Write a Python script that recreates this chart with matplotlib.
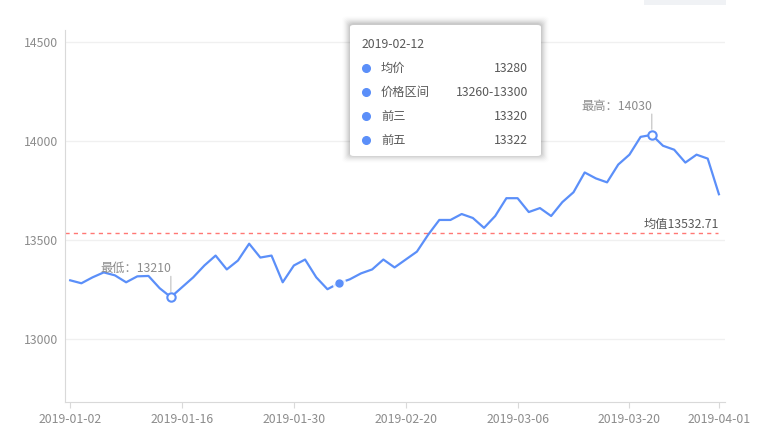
import numpy as np
import pandas as pd
import matplotlib.pyplot as plt
from matplotlib.patches import FancyBboxPatch, Rectangle

plt.rcParams['font.family'] = ['Noto Sans CJK SC', 'DejaVu Sans']

# 交易日 (2019 春节休市 02-04 ~ 02-08)
holidays = ['2019-02-04', '2019-02-05', '2019-02-06', '2019-02-07', '2019-02-08']
dates = pd.bdate_range('2019-01-02', '2019-04-01', freq='C', holidays=holidays).strftime('%Y-%m-%d').tolist()

prices = [13295, 13280, 13310, 13335, 13320, 13285, 13315, 13317, 13255, 13210,
          13260, 13310, 13370, 13420, 13350, 13395, 13480, 13410, 13420, 13285,
          13370, 13400, 13310, 13250, 13280, 13300, 13330, 13350, 13400, 13360,
          13400, 13440, 13525, 13600, 13600, 13630, 13610, 13560, 13620, 13710,
          13710, 13640, 13660, 13620, 13690, 13740, 13840, 13810, 13790, 13880,
          13930, 14020, 14030, 13975, 13955, 13890, 13930, 13910, 13730]
mean_value = 13532.71

tick_idx = [0, 10, 20, 30, 40, 50, 58]
yticks = [13000, 13500, 14000, 14500]

tip_date = '2019-02-12'
tip_names = ['均价', '价格区间', '前三', '前五']
tip_values = ['13280', '13260-13300', '13320', '13322']

blue = '#5B8FF9'
W, H = 757, 433

fig = plt.figure(figsize=(W / 100, H / 100), dpi=100)
ax = fig.add_axes([64.6 / W, 1 - 402 / H, (724.5 - 64.6) / W, (402 - 30) / H])

x = np.arange(len(prices))
ax.plot(x, prices, color=blue, lw=1.6, zorder=3)
ax.set_xlim(-0.5, len(prices) - 0.5)
ax.set_ylim(12680, 14560)

for s in ['top', 'right']:
    ax.spines[s].set_visible(False)
ax.spines['left'].set_color('#d9d9d9')
ax.spines['bottom'].set_color('#d9d9d9')
ax.set_yticks(yticks)
ax.set_yticklabels([str(v) for v in yticks])
ax.tick_params(axis='y', length=0, pad=5, labelsize=8.8, labelcolor='#8c8c8c')
ax.set_xticks(tick_idx)
ax.set_xticklabels([dates[i] for i in tick_idx])
ax.tick_params(axis='x', length=4, color='#d9d9d9', pad=4, labelsize=8.8, labelcolor='#8c8c8c')
for v in yticks:
    ax.axhline(v, color='#f0f0f0', lw=1, zorder=1)

# 均值线
ax.axhline(mean_value, xmax=0.99, color='#ff7875', lw=1, ls=(0, (3, 3)), zorder=2)
ax.annotate(f'均值{mean_value}', (len(prices) - 1, mean_value), xytext=(0, 2),
            textcoords='offset points', ha='right', va='bottom', fontsize=8.8, color='#595959')

# 最低 / 最高
for label, i in [('最低', int(np.argmin(prices))), ('最高', int(np.argmax(prices)))]:
    ax.plot(x[i], prices[i], 'o', ms=6, mfc='white', mec=blue, mew=1.5, zorder=5)
    ax.annotate('', (x[i], prices[i]), xytext=(0, 15), textcoords='offset points',
                arrowprops=dict(arrowstyle='-', color='#bfbfbf', lw=0.8, shrinkA=0, shrinkB=4))
    ax.annotate(f'{label}：{prices[i]}', (x[i], prices[i]), xytext=(0, 16), textcoords='offset points',
                ha='right', va='bottom', fontsize=8.8, color='#8c8c8c')

# 当前点
ti = dates.index(tip_date)
ax.plot(x[ti], prices[ti], 'o', ms=9, color='white', alpha=0.8, zorder=4)
ax.plot(x[ti], prices[ti], 'o', ms=5, color=blue, zorder=5)


# tooltip
def fx(px):
    return px / W


def fy(py):
    return 1 - py / H


bx0, by0, bx1, by1 = 350, 25, 541, 156
for k in range(8, 0, -1):
    fig.patches.append(FancyBboxPatch((fx(bx0 - k), fy(by1 + k - 1)), (bx1 - bx0 + 2 * k) / W,
                                      (by1 - by0 + 2 * k) / H, boxstyle='round,pad=0,rounding_size=0.008',
                                      transform=fig.transFigure, fc='#000000', ec='none', alpha=0.006 * (9 - k),
                                      zorder=9))
fig.patches.append(FancyBboxPatch((fx(bx0), fy(by1)), (bx1 - bx0) / W, (by1 - by0) / H,
                                  boxstyle='round,pad=0,rounding_size=0.005', transform=fig.transFigure,
                                  fc='white', ec='none', zorder=10))
fig.text(fx(362), fy(44), tip_date, fontsize=8.8, color='#595959', va='center', zorder=11)
for r, (n, v) in enumerate(zip(tip_names, tip_values)):
    yy = fy(68 + 24 * r)
    fig.add_artist(plt.Line2D([fx(366)], [yy], marker='o', ms=5.5, color=blue, transform=fig.transFigure, zorder=11))
    fig.text(fx(381), yy, n, fontsize=8.8, color='#595959', va='center', zorder=11)
    fig.text(fx(528), yy, v, fontsize=8.8, color='#595959', va='center', ha='right', zorder=11)

# 右上角工具条残影
fig.patches.append(Rectangle((fx(644), fy(5)), 82 / W, 5 / H, transform=fig.transFigure, fc='#f0f2f5', ec='none'))

fig.savefig('out.png', dpi=100)
